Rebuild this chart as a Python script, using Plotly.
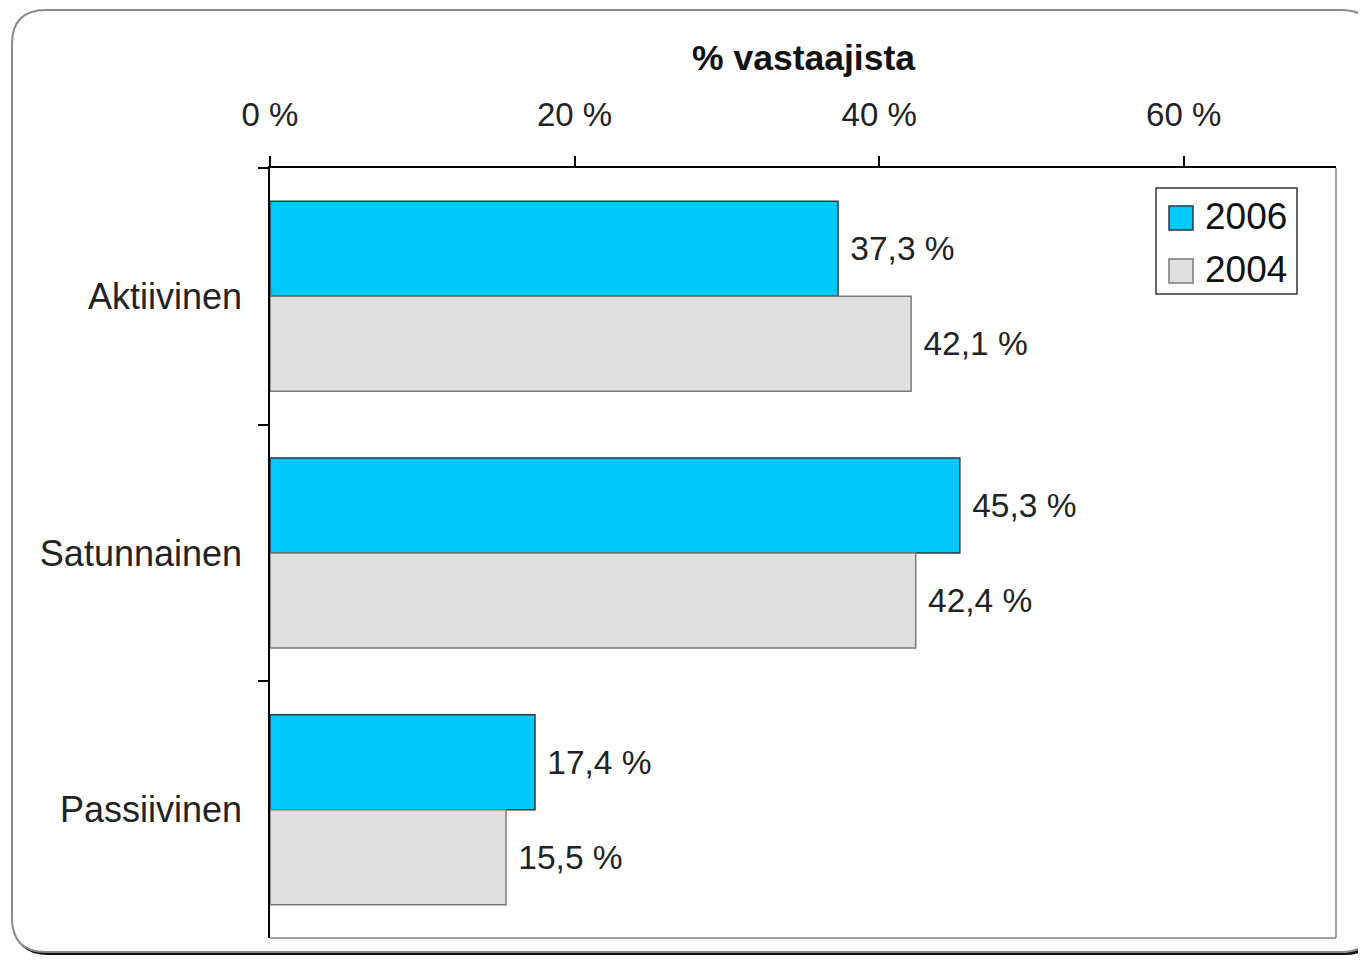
import plotly.graph_objects as go

categories = ["Aktiivinen", "Satunnainen", "Passiivinen"]
values_2006 = [37.3, 45.3, 17.4]
values_2004 = [42.1, 42.4, 15.5]
series_names = ["2006", "2004"]
tick_values = [0, 20, 40, 60]
tick_labels = ["0 %", "20 %", "40 %", "60 %"]
axis_title = "% vastaajista"


def fmt(v):
    return f"{v:.1f} %".replace(".", ",")


OFF = 8  # page body margin
SW, SH = 1366, 963
W, H = SW - 2 * OFF, SH - 2 * OFF
# plot area in screen pixels: x 270..1336, y 168..938
ML = 270 - OFF
MT = 168 - OFF
MR = W - (1336 - OFF)
MB = H - (938 - OFF)
PW, PH = W - ML - MR, H - MT - MB


def px(x):
    return (x - OFF - ML) / PW


def py(y):
    return (MT + PH - (y - OFF)) / PH


def rounded_path(x0, y0, x1, y1, r):
    pts = [
        f"M {px(x0 + r)} {py(y0)}",
        f"L {px(x1 - r)} {py(y0)}",
        f"Q {px(x1)} {py(y0)} {px(x1)} {py(y0 + r)}",
        f"L {px(x1)} {py(y1 - r)}",
        f"Q {px(x1)} {py(y1)} {px(x1 - r)} {py(y1)}",
        f"L {px(x0 + r)} {py(y1)}",
        f"Q {px(x0)} {py(y1)} {px(x0)} {py(y1 - r)}",
        f"L {px(x0)} {py(y0 + r)}",
        f"Q {px(x0)} {py(y0)} {px(x0 + r)} {py(y0)}",
        "Z",
    ]
    return " ".join(pts)


FONT = "Liberation Sans, Arial, sans-serif"
TXT = "#222222"
C2006, L2006 = "#00C8FA", "#2a3a40"
C2004, L2004 = "#E0E0E0", "#7a7a7a"

fig = go.Figure()
fig.add_trace(go.Bar(
    y=categories, x=values_2006, name=series_names[0], orientation="h",
    marker=dict(color=C2006, line=dict(color=L2006, width=1.5)),
    text=[fmt(v) for v in values_2006], texttemplate="\u00a0%{text}",
    textposition="outside", textfont=dict(size=33.5, color=TXT, family=FONT),
    cliponaxis=False, constraintext="none", showlegend=False,
))
fig.add_trace(go.Bar(
    y=categories, x=values_2004, name=series_names[1], orientation="h",
    marker=dict(color=C2004, line=dict(color=L2004, width=1.5)),
    text=[fmt(v) for v in values_2004], texttemplate="\u00a0%{text}",
    textposition="outside", textfont=dict(size=33.5, color=TXT, family=FONT),
    cliponaxis=False, constraintext="none", showlegend=False,
))

shapes = [
    dict(type="path", xref="paper", yref="paper", layer="below",
         path=rounded_path(14, 13, 1378, 955, 34),
         fillcolor="#111111", line=dict(width=0)),
    dict(type="path", xref="paper", yref="paper", layer="below",
         path=rounded_path(12, 10, 1375, 952, 34),
         fillcolor="white", line=dict(color="#8a8a8a", width=2)),
    dict(type="line", xref="paper", yref="paper", x0=1, x1=1, y0=0, y1=1,
         line=dict(color="#a0a0a0", width=2), layer="above"),
    dict(type="line", xref="paper", yref="paper", x0=0, x1=1, y0=0, y1=0,
         line=dict(color="#a0a0a0", width=2), layer="above"),
    # legend box
    dict(type="rect", xref="paper", yref="paper", layer="above",
         x0=px(1156), x1=px(1297), y0=py(294), y1=py(188),
         fillcolor="white", line=dict(color="#333333", width=1.5)),
]
annotations = [dict(
    text=f"<b>{axis_title}</b>", xref="paper", yref="paper",
    x=px(803), y=py(58), xanchor="center", yanchor="middle",
    showarrow=False, font=dict(size=35.5, color="#111111", family=FONT),
)]

# manual legend (larger swatches than plotly's legend allows)
legend_rows = [(series_names[0], C2006, L2006, 218),
               (series_names[1], C2004, L2004, 271)]
for name, fc, lc, cy in legend_rows:
    shapes.append(dict(
        type="rect", xref="paper", yref="paper", layer="above",
        x0=px(1169), x1=px(1193), y0=py(cy + 12), y1=py(cy - 12),
        fillcolor=fc, line=dict(color=lc, width=1.5),
    ))
    annotations.append(dict(
        text=name, xref="paper", yref="paper", x=px(1203), y=py(cy - 2),
        xanchor="left", yanchor="middle", showarrow=False,
        font=dict(size=37, color="#111111", family=FONT),
    ))

fig.update_layout(
    width=W, height=H,
    margin=dict(l=ML, r=MR, t=MT, b=MB),
    paper_bgcolor="white", plot_bgcolor="rgba(0,0,0,0)",
    barmode="group", bargap=0.26, bargroupgap=0,
    font=dict(family=FONT, size=33, color=TXT),
    shapes=shapes, annotations=annotations,
    showlegend=False,
)

fig.update_xaxes(
    side="top", range=[0, 70], tickvals=tick_values, ticktext=tick_labels,
    ticks="outside", ticklen=10, tickcolor="black", tickwidth=1.5,
    showline=True, linecolor="black", linewidth=1.5,
    showgrid=False, zeroline=False, ticklabelstandoff=17,
    tickfont=dict(size=33, color=TXT, family=FONT),
)
fig.update_yaxes(
    type="category", categoryorder="array", categoryarray=categories,
    autorange="reversed", tickson="boundaries",
    ticks="outside", ticklen=10, tickcolor="black", tickwidth=1.5,
    showline=True, linecolor="black", linewidth=1.5,
    showgrid=False, zeroline=False, ticklabelstandoff=19,
    tickfont=dict(size=36, color=TXT, family=FONT),
)

fig.write_html("out.html")
